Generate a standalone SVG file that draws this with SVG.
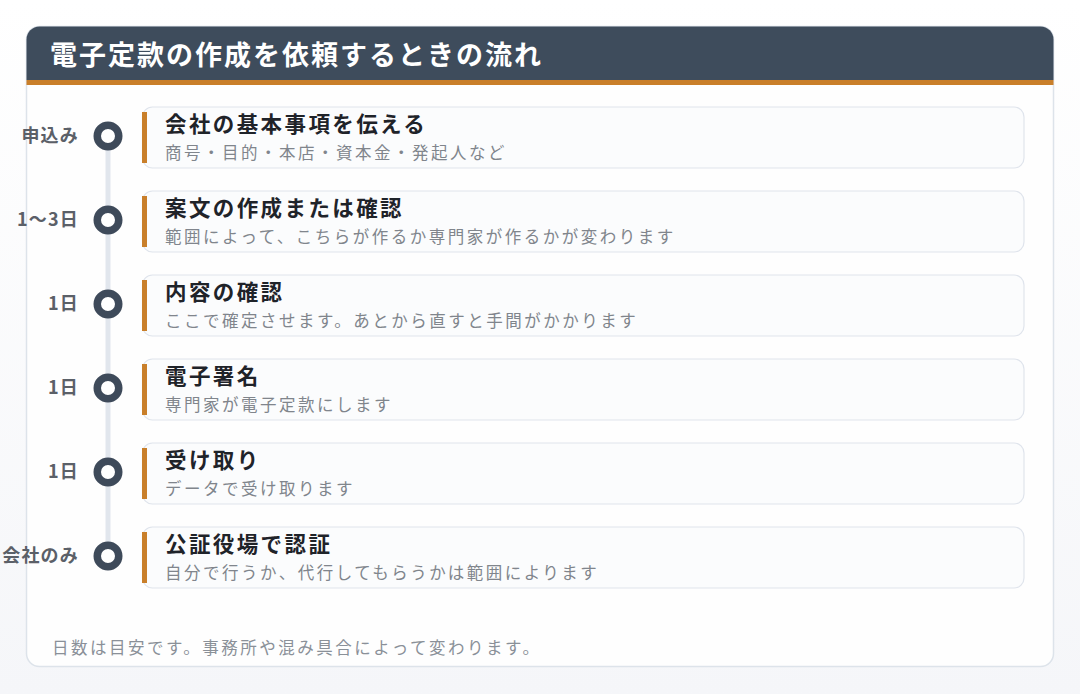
<svg xmlns="http://www.w3.org/2000/svg" width="1080" height="694" viewBox="0 0 1080 694">
<defs>
<linearGradient id="bg" x1="0" y1="0" x2="0" y2="1">
<stop offset="0" stop-color="#ffffff"/>
<stop offset="1" stop-color="#f5f6f9"/>
</linearGradient>
<clipPath id="cardclip"><rect x="26.5" y="26.5" width="1027" height="640" rx="13"/></clipPath>
</defs>
<style>
text{font-family:"Noto Sans CJK JP","Noto Sans",sans-serif}
.head{font-size:27px;font-weight:700;fill:#ffffff;letter-spacing:2.0px}
.lbl{font-size:18px;font-weight:700;fill:#5b6068;text-anchor:end;letter-spacing:1.2px}
.box{fill:#fbfcfd;stroke:#dfe4ec;stroke-width:1.2}
.bar{fill:#c97f2a}
.ttl{font-size:21.5px;font-weight:700;fill:#1f2329;letter-spacing:2.4px}
.sub{font-size:16.5px;fill:#80858c;letter-spacing:2.5px}
.dot{fill:#ffffff;stroke:#3e4a5a;stroke-width:7.5}
.note{font-size:16.5px;fill:#8a9098;letter-spacing:2.5px}
</style>
<rect width="1080" height="694" fill="url(#bg)"/>
<g id="card">
<rect x="26.5" y="26.5" width="1027" height="640" rx="13" fill="#fefefe" stroke="#dde3ea" stroke-width="1.5"/>
<g clip-path="url(#cardclip)">
<rect x="26" y="26" width="1028" height="54" fill="#3e4c5c"/>
<rect x="26" y="80" width="1028" height="5" fill="#c97f2a"/>
</g>
<text class="head" x="50" y="65">電子定款の作成を依頼するときの流れ</text>
</g>
<g id="connectors">
<line x1="108" y1="136" x2="108" y2="556" stroke="#e1e6ed" stroke-width="5"/>
</g>
<g id="step1">
<rect class="box" x="142.5" y="107" width="881.5" height="61" rx="10"/>
<rect class="bar" x="142" y="112" width="5" height="51"/>
<text class="ttl" x="165" y="132">会社の基本事項を伝える</text>
<text class="sub" x="165" y="159">商号・目的・本店・資本金・発起人など</text>
<circle class="dot" cx="108" cy="136" r="10.75"/>
<text class="lbl" x="79" y="142">申込み</text>
</g>
<g id="step2">
<rect class="box" x="142.5" y="191" width="881.5" height="61" rx="10"/>
<rect class="bar" x="142" y="196" width="5" height="51"/>
<text class="ttl" x="165" y="216">案文の作成または確認</text>
<text class="sub" x="165" y="243">範囲によって、こちらが作るか専門家が作るかが変わります</text>
<circle class="dot" cx="108" cy="220" r="10.75"/>
<text class="lbl" x="79" y="226">1〜3日</text>
</g>
<g id="step3">
<rect class="box" x="142.5" y="275" width="881.5" height="61" rx="10"/>
<rect class="bar" x="142" y="280" width="5" height="51"/>
<text class="ttl" x="165" y="300">内容の確認</text>
<text class="sub" x="165" y="327">ここで確定させます。あとから直すと手間がかかります</text>
<circle class="dot" cx="108" cy="304" r="10.75"/>
<text class="lbl" x="79" y="310">1日</text>
</g>
<g id="step4">
<rect class="box" x="142.5" y="359" width="881.5" height="61" rx="10"/>
<rect class="bar" x="142" y="364" width="5" height="51"/>
<text class="ttl" x="165" y="384">電子署名</text>
<text class="sub" x="165" y="411">専門家が電子定款にします</text>
<circle class="dot" cx="108" cy="388" r="10.75"/>
<text class="lbl" x="79" y="394">1日</text>
</g>
<g id="step5">
<rect class="box" x="142.5" y="443" width="881.5" height="61" rx="10"/>
<rect class="bar" x="142" y="448" width="5" height="51"/>
<text class="ttl" x="165" y="468">受け取り</text>
<text class="sub" x="165" y="495">データで受け取ります</text>
<circle class="dot" cx="108" cy="472" r="10.75"/>
<text class="lbl" x="79" y="478">1日</text>
</g>
<g id="step6">
<rect class="box" x="142.5" y="527" width="881.5" height="61" rx="10"/>
<rect class="bar" x="142" y="532" width="5" height="51"/>
<text class="ttl" x="165" y="552">公証役場で認証</text>
<text class="sub" x="165" y="579">自分で行うか、代行してもらうかは範囲によります</text>
<circle class="dot" cx="108" cy="556" r="10.75"/>
<text class="lbl" x="79" y="562">会社のみ</text>
</g>
<g id="footnote">
<text class="note" x="52" y="654">日数は目安です。事務所や混み具合によって変わります。</text>
</g>
</svg>
